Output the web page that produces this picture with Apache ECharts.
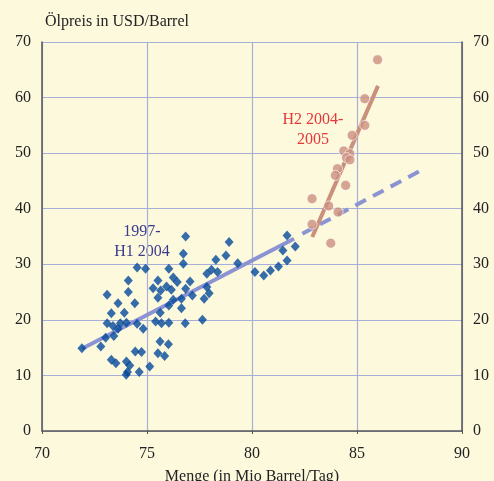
<!DOCTYPE html>
<html>
<head>
<meta charset="utf-8">
<script src="https://cdn.jsdelivr.net/npm/echarts@6/dist/echarts.min.js"></script>
<style>
	html, body { margin: 0; padding: 0; background: #fdf9dd; }
	#chart { width: 494px; height: 481px; }
</style>
</head>
<body>
<div id="chart"></div>
<script>
// Beobachtungen 1997 - H1 2004
const blueX = [71.90, 72.80, 73.03, 73.42, 73.10, 73.30, 73.62, 73.92, 74.11, 74.11, 74.42, 74.53, 74.93, 73.10, 73.38, 73.62, 73.73, 74.02, 74.53, 74.82, 74.44, 74.74, 73.30, 73.52, 74.02, 74.18, 74.07, 74.01, 74.63, 75.13, 75.52, 75.84, 75.62, 76.02, 75.41, 75.69, 76.04, 76.82, 75.63, 76.04, 76.25, 76.64, 76.64, 75.52, 75.29, 75.65, 75.52, 75.93, 76.16, 76.25, 76.44, 76.04, 77.05, 76.84, 77.16, 76.73, 76.73, 76.84, 78.91, 78.76, 78.28, 79.32, 77.85, 78.07, 78.36, 77.85, 77.96, 77.72, 77.64, 80.14, 80.56, 80.88, 81.26, 81.67, 81.47, 82.06, 81.67]
const blueY = [14.9, 15.2, 16.8, 17.1, 24.5, 21.2, 23.0, 21.3, 27.1, 25.0, 23.0, 29.4, 29.2, 19.4, 18.9, 18.4, 19.4, 19.5, 19.3, 18.4, 14.3, 14.2, 12.8, 12.2, 12.5, 11.8, 10.6, 10.1, 10.6, 11.6, 14.0, 13.5, 16.1, 15.6, 19.7, 19.4, 19.5, 19.4, 21.3, 22.6, 23.6, 23.8, 22.1, 24.0, 25.7, 25.3, 27.1, 26.0, 25.4, 27.6, 26.8, 29.2, 26.9, 25.6, 24.4, 30.1, 31.9, 35.0, 34.0, 31.6, 30.8, 30.2, 28.3, 29.0, 28.6, 25.9, 24.8, 23.8, 20.0, 28.6, 28.0, 28.9, 29.6, 30.7, 32.5, 33.2, 35.2]
// Beobachtungen H2 2004 - 2005
const redX = [85.98, 85.37, 85.37, 84.77, 84.37, 84.66, 84.50, 84.66, 84.07, 83.97, 84.46, 82.86, 83.65, 84.10, 82.86, 83.75]
const redY = [66.8, 59.8, 55.0, 53.2, 50.4, 49.9, 49.2, 48.8, 47.2, 46.0, 44.2, 41.8, 40.5, 39.4, 37.2, 33.8]
// Trendlinien
const blueFitX = [71.9, 82.0]
const blueFitY = [14.8, 34.6]
const blueProjX = [82.4, 88.1]
const blueProjY = [35.5, 47.0]
const redFitX = [82.87, 86.0]
const redFitY = [34.9, 62.1]
const xTicks = [70, 90, 5]
const yTicks = [0, 70, 10]

const zip = (xs, ys) => xs.map((x, i) => [x, ys[i]])
const font = 'Liberation Serif'
const gridColor = '#a7afd9'
const axisColor = '#555555'

let myChart = echarts.init(document.getElementById('chart'))
let yAxisBase = {
	type: 'value',
	min: yTicks[0],
	max: yTicks[1],
	interval: yTicks[2],
	axisLine: { show: true, lineStyle: { color: axisColor, width: 1.5 } },
	axisTick: { show: false },
	axisLabel: { color: '#222', fontFamily: font, fontSize: 16, margin: 11 }
}
let option = {
	backgroundColor: '#fdf9dd',
	animation: false,
	title: {
		text: 'Ölpreis in USD/Barrel',
		left: 40,
		top: 9,
		textStyle: { fontFamily: font, fontSize: 16, fontWeight: 'normal', color: '#222' }
	},
	grid: { left: 42, right: 32, top: 42, bottom: 50, outerBoundsMode: 'none' },
	xAxis: {
		type: 'value',
		min: xTicks[0],
		max: xTicks[1],
		interval: xTicks[2],
		name: 'Menge (in Mio Barrel/Tag)',
		nameLocation: 'middle',
		nameGap: 38,
		nameTextStyle: { fontFamily: font, fontSize: 16, color: '#222' },
		axisLine: { show: true, lineStyle: { color: axisColor, width: 1.5 } },
		axisTick: { show: true, length: 3, inside: false, lineStyle: { color: axisColor } },
		axisLabel: { color: '#222', fontFamily: font, fontSize: 16, margin: 15 },
		splitLine: { show: true, lineStyle: { color: gridColor, width: 1.2 } }
	},
	yAxis: [
		Object.assign({}, yAxisBase, {
			position: 'left',
			splitLine: { show: true, lineStyle: { color: gridColor, width: 1.2 } }
		}),
		Object.assign({}, yAxisBase, {
			position: 'right',
			splitLine: { show: false }
		})
	],
	graphic: [
		{
			type: 'text',
			x: 142,
			y: 222,
			style: { text: '1997-\nH1 2004', font: '16px "Liberation Serif"', fill: '#3b3b8e', textAlign: 'center', align: 'center', lineHeight: 20 }
		},
		{
			type: 'text',
			x: 313,
			y: 110,
			style: { text: 'H2 2004-\n2005', font: '16px "Liberation Serif"', fill: '#e4383c', textAlign: 'center', align: 'center', lineHeight: 20 }
		}
	],
	series: [
		{
			type: 'line',
			data: zip(blueFitX, blueFitY),
			showSymbol: false,
			lineStyle: { color: '#8c93d3', width: 4 },
			z: 2
		},
		{
			type: 'line',
			data: zip(blueProjX, blueProjY),
			showSymbol: false,
			lineStyle: { color: '#8c93d3', width: 4, type: [12, 8] },
			z: 2
		},
		{
			type: 'scatter',
			data: zip(blueX, blueY),
			symbol: 'diamond',
			symbolSize: [9, 10],
			itemStyle: { color: '#04489a' },
			z: 3
		},
		{
			type: 'line',
			data: zip(redFitX, redFitY),
			showSymbol: false,
			lineStyle: { color: '#c9907c', width: 4 },
			z: 2
		},
		{
			type: 'scatter',
			data: zip(redX, redY),
			symbol: 'circle',
			symbolSize: 10,
			itemStyle: { color: '#cc907f', borderColor: '#ffffff', borderWidth: 0.8 },
			z: 3
		}
	]
}
myChart.setOption(option)
</script>
</body>
</html>
